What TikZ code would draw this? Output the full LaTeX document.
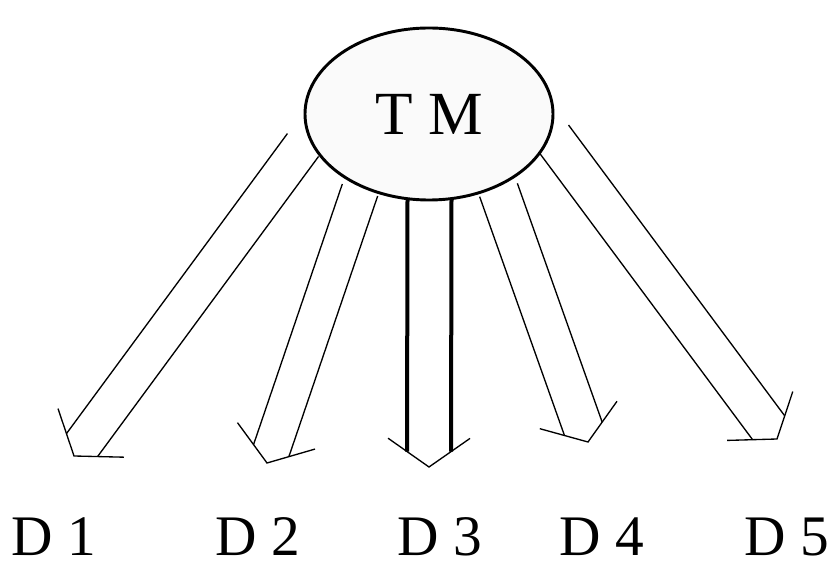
\documentclass[tikz,border=0pt]{standalone}
\usepackage{fontspec}
\setmainfont{Liberation Serif}
\usetikzlibrary{calc,shapes.geometric}

% hollow arrow: [shaft style] start, tip, half width in pt
\newcommand{\hollowarrow}[4][]{%
  \pgfmathsetmacro\hajoin{#4/sin(55)}%
  \draw[shaft,#1] ($(#2)!#4pt!90:(#3)$) -- ($(#3)!\hajoin pt!-55:(#2)$);
  \draw[shaft,#1] ($(#2)!#4pt!-90:(#3)$) -- ($(#3)!\hajoin pt!55:(#2)$);
  \draw[head] ($(#3)!37.5pt!-55:(#2)$) -- (#3) -- ($(#3)!37.5pt!55:(#2)$);
}

\begin{document}
\begin{tikzpicture}[x=0.75pt,y=-0.75pt,
  shaft/.style={draw=black,line width=1pt},
  head/.style={draw=black,line width=1pt},
  thickshaft/.style={line width=3pt},
  hub/.style={ellipse,draw=black,line width=2.2pt,fill=black!2,minimum width=186pt,minimum height=129pt,inner sep=0pt},
  lbl/.style={anchor=base,inner sep=0pt,font=\fontsize{43}{46}\selectfont}]
\useasboundingbox (0,0) rectangle (832,566);
% arrow starts and tips
\coordinate (s1) at (303,145); \coordinate (t1) at (74,456);
\coordinate (s2) at (360,190); \coordinate (t2) at (267,463);
\coordinate (s3) at (429.5,199); \coordinate (t3) at (429,467);
\coordinate (s4) at (498.5,190); \coordinate (t4) at (588,442);
\coordinate (s5) at (552.5,137); \coordinate (t5) at (777,439);
\hollowarrow{s1}{t1}{14.5}
\hollowarrow{s2}{t2}{14}
\hollowarrow[thickshaft]{s3}{t3}{16.5}
\hollowarrow{s4}{t4}{15}
\hollowarrow{s5}{t5}{15}
\node[hub,font=\fontsize{46}{50}\selectfont] (tm) at (429,114) {T M};
% targets
\node[lbl] (d1) at (54,555) {D 1};
\node[lbl] (d2) at (258,555) {D 2};
\node[lbl] (d3) at (440,555) {D 3};
\node[lbl] (d4) at (602,555) {D 4};
\node[lbl] (d5) at (787,555) {D 5};
\end{tikzpicture}
\end{document}
